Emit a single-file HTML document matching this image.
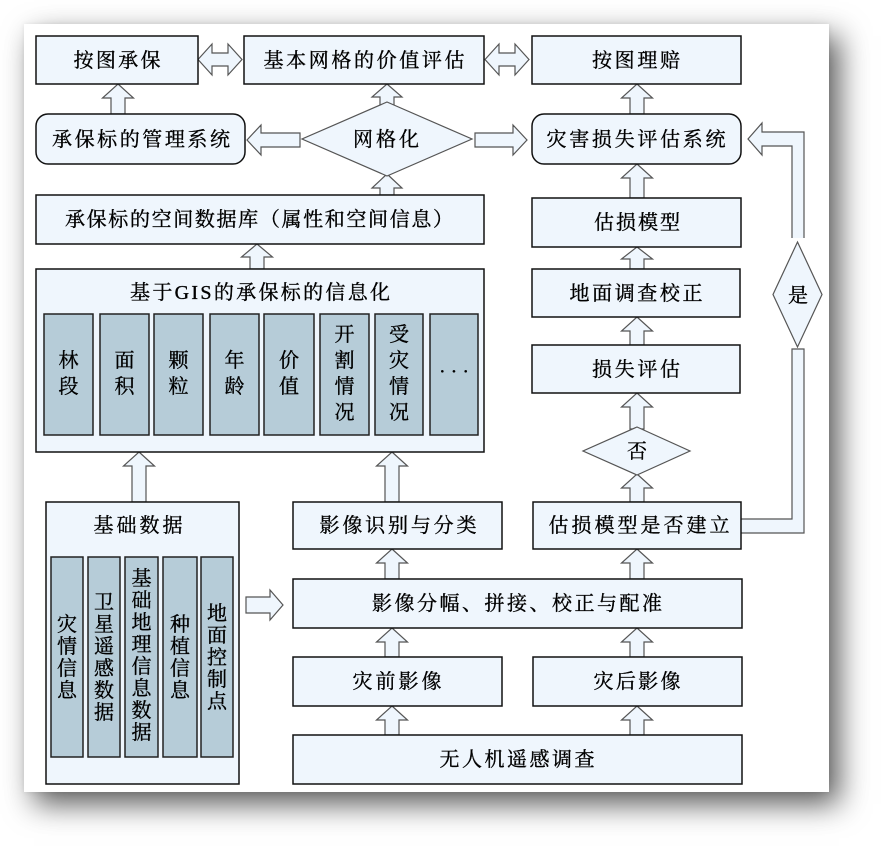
<!DOCTYPE html>
<html><head><meta charset="utf-8"><style>
html,body{margin:0;padding:0;background:#fff;}
body{width:887px;height:849px;position:relative;overflow:hidden;}
#card{position:absolute;left:24px;top:24px;width:805px;height:768px;background:#fff;box-shadow:10px 12px 28px rgba(0,0,0,0.65),0 0 5px rgba(0,0,0,0.08);}
svg{position:absolute;left:0;top:0;}
text{font-family:"Liberation Serif","Noto Serif CJK SC","Noto Sans CJK SC",serif;font-size:20px;fill:#000;stroke:#000;stroke-width:0.35;}
.bx{fill:#eff6fd;stroke:#111;stroke-width:1.5;}
.bar{fill:#b6ccd8;stroke:#222;stroke-width:1.5;}
.ar{fill:#eff6fd;stroke:#555;stroke-width:1.2;stroke-linejoin:miter;}
.dm{fill:#eff6fd;stroke:#555;stroke-width:1.2;}
</style></head><body>
<div id="card"></div>
<svg width="887" height="849" viewBox="0 0 887 849" xmlns="http://www.w3.org/2000/svg">
<g class="ar">
<path d="M118,84 L133.5,98 L125,98 L125,114 L111,114 L111,98 L102.5,98 Z"/>
<path d="M387,84 L402,97 L394,97 L394,106 L380,106 L380,97 L372,97 Z"/>
<path d="M637,84 L652.5,98 L644,98 L644,114 L630,114 L630,98 L621.5,98 Z"/>
<path d="M387,174 L402,188 L394,188 L394,195 L380,195 L380,188 L372,188 Z"/>
<path d="M637,164 L652.5,178 L644,178 L644,198 L630,198 L630,178 L621.5,178 Z"/>
<path d="M257,244 L272.5,257 L264,257 L264,269 L250,269 L250,257 L241.5,257 Z"/>
<path d="M637,247 L652.5,259 L644,259 L644,269 L630,269 L630,259 L621.5,259 Z"/>
<path d="M637,317 L652.5,331 L644,331 L644,345 L630,345 L630,331 L621.5,331 Z"/>
<path d="M637,393 L652.5,407 L644,407 L644,429 L630,429 L630,407 L621.5,407 Z"/>
<path d="M637,474 L652.5,488 L644,488 L644,502 L630,502 L630,488 L621.5,488 Z"/>
<path d="M139,452 L154.5,466 L146,466 L146,502 L132,502 L132,466 L123.5,466 Z"/>
<path d="M392,452 L407.5,466 L399,466 L399,502 L385,502 L385,466 L376.5,466 Z"/>
<path d="M392,549 L407.5,563 L399,563 L399,579 L385,579 L385,563 L376.5,563 Z"/>
<path d="M637,549 L652.5,563 L644,563 L644,579 L630,579 L630,563 L621.5,563 Z"/>
<path d="M392,628 L407.5,642 L399,642 L399,657 L385,657 L385,642 L376.5,642 Z"/>
<path d="M637,628 L652.5,642 L644,642 L644,657 L630,657 L630,642 L621.5,642 Z"/>
<path d="M392,706 L407.5,720 L399,720 L399,735 L385,735 L385,720 L376.5,720 Z"/>
<path d="M637,706 L652.5,720 L644,720 L644,735 L630,735 L630,720 L621.5,720 Z"/>
<path d="M247,140 L261,125 L261,133 L300,133 L300,147 L261,147 L261,155 Z"/>
<path d="M527,140 L513,125 L513,133 L475,133 L475,147 L513,147 L513,155 Z"/>
<path d="M283,605 L270,590 L270,597 L246,597 L246,613 L270,613 L270,620 Z"/>
<path d="M198,59.5 L212,44 L212,53 L228,53 L228,44 L242,59.5 L228,75 L228,66 L212,66 L212,75 Z"/>
<path d="M485,59.5 L499,44 L499,53 L515,53 L515,44 L529,59.5 L515,75 L515,66 L499,66 L499,75 Z"/>
<path d="M741,519 L792,519 L792,349 L804,349 L804,533 L741,533"/>
<path d="M792,238 L792,146 L762,146 L762,155 L748,139 L762,123 L762,132 L804,132 L804,238"/>
</g>
<polygon class="dm" points="387,102 472,139 387,176 302,139"/>
<polygon class="dm" points="637,427 690,451 637,475 583,451"/>
<polygon class="dm" points="797.5,242 822,294.5 797.5,347 773,294.5"/>
<rect class="bx" x="36" y="36" width="162" height="48"/>
<rect class="bx" x="244" y="36" width="240" height="48"/>
<rect class="bx" x="532" y="36" width="209" height="48"/>
<rect class="bx" x="36" y="114" width="209" height="50" rx="12"/>
<rect class="bx" x="532" y="114" width="209" height="50" rx="12"/>
<rect class="bx" x="36" y="195" width="448" height="49"/>
<rect class="bx" x="532" y="198" width="209" height="49"/>
<rect class="bx" x="36" y="269" width="448" height="183"/>
<rect class="bx" x="532" y="269" width="208" height="48"/>
<rect class="bx" x="532" y="345" width="208" height="48"/>
<rect class="bx" x="533" y="502" width="208" height="47"/>
<rect class="bx" x="46" y="502" width="193" height="282"/>
<rect class="bx" x="293" y="502" width="209" height="47"/>
<rect class="bx" x="293" y="579" width="449" height="49"/>
<rect class="bx" x="293" y="657" width="209" height="49"/>
<rect class="bx" x="533" y="657" width="209" height="49"/>
<rect class="bx" x="293" y="735" width="449" height="49"/>
<rect class="bar" x="44" y="314" width="49" height="121"/>
<rect class="bar" x="100" y="314" width="49" height="121"/>
<rect class="bar" x="154" y="314" width="49" height="121"/>
<rect class="bar" x="210" y="314" width="49" height="121"/>
<rect class="bar" x="264" y="314" width="50" height="121"/>
<rect class="bar" x="320" y="314" width="49" height="121"/>
<rect class="bar" x="375" y="314" width="48" height="121"/>
<rect class="bar" x="430" y="314" width="48" height="121"/>
<rect class="bar" x="51" y="557" width="32" height="200"/>
<rect class="bar" x="88" y="557" width="32" height="200"/>
<rect class="bar" x="125" y="557" width="33" height="200"/>
<rect class="bar" x="163" y="557" width="34" height="200"/>
<rect class="bar" x="201" y="557" width="32" height="200"/>
<g text-anchor="middle" dominant-baseline="central">
<text x="117" y="61" textLength="87" lengthAdjust="spacing">按图承保</text>
<text x="364" y="61" textLength="201" lengthAdjust="spacing">基本网格的价值评估</text>
<text x="636" y="61" textLength="88" lengthAdjust="spacing">按图理赔</text>
<text x="141" y="140" textLength="178" lengthAdjust="spacing">承保标的管理系统</text>
<text x="386" y="140" textLength="66" lengthAdjust="spacing">网格化</text>
<text x="636" y="140" textLength="179" lengthAdjust="spacing">灾害损失评估系统</text>
<text x="259" y="220" textLength="388" lengthAdjust="spacing">承保标的空间数据库（属性和空间信息）</text>
<text x="637" y="223" textLength="86" lengthAdjust="spacing">估损模型</text>
<text x="260" y="293" textLength="260" lengthAdjust="spacing">基于GIS的承保标的信息化</text>
<text x="636" y="294" textLength="133" lengthAdjust="spacing">地面调查校正</text>
<text x="636" y="370" textLength="88" lengthAdjust="spacing">损失评估</text>
<text x="637" y="452">否</text>
<text x="798" y="296">是</text>
<text x="639" y="526" textLength="181" lengthAdjust="spacing">估损模型是否建立</text>
<text x="138" y="526" textLength="89" lengthAdjust="spacing">基础数据</text>
<text x="398" y="526" textLength="157" lengthAdjust="spacing">影像识别与分类</text>
<text x="517" y="604" textLength="290" lengthAdjust="spacing">影像分幅、拼接、校正与配准</text>
<text x="397" y="682" textLength="89" lengthAdjust="spacing">灾前影像</text>
<text x="637" y="682" textLength="87" lengthAdjust="spacing">灾后影像</text>
<text x="517" y="760" textLength="155" lengthAdjust="spacing">无人机遥感调查</text>
<text x="68.5" y="361">林</text><text x="68.5" y="387">段</text>
<text x="124.5" y="361">面</text><text x="124.5" y="387">积</text>
<text x="178.5" y="361">颗</text><text x="178.5" y="387">粒</text>
<text x="234.5" y="361">年</text><text x="234.5" y="387">龄</text>
<text x="289" y="361">价</text><text x="289" y="387">值</text>
<text x="344.5" y="335">开</text><text x="344.5" y="361">割</text><text x="344.5" y="387">情</text><text x="344.5" y="413">况</text>
<text x="399" y="335">受</text><text x="399" y="361">灾</text><text x="399" y="387">情</text><text x="399" y="413">况</text>
<text x="454" y="372">· · ·</text>
<text x="67" y="625">灾</text><text x="67" y="647">情</text><text x="67" y="669">信</text><text x="67" y="691">息</text>
<text x="104" y="603">卫</text><text x="104" y="625">星</text><text x="104" y="647">遥</text><text x="104" y="669">感</text><text x="104" y="691">数</text><text x="104" y="713">据</text>
<text x="141.5" y="579">基</text><text x="141.5" y="601">础</text><text x="141.5" y="623">地</text><text x="141.5" y="645">理</text><text x="141.5" y="667">信</text><text x="141.5" y="689">息</text><text x="141.5" y="711">数</text><text x="141.5" y="733">据</text>
<text x="180" y="625">种</text><text x="180" y="647">植</text><text x="180" y="669">信</text><text x="180" y="691">息</text>
<text x="217" y="614">地</text><text x="217" y="636">面</text><text x="217" y="658">控</text><text x="217" y="680">制</text><text x="217" y="702">点</text>
</g>
</svg>
</body></html>
